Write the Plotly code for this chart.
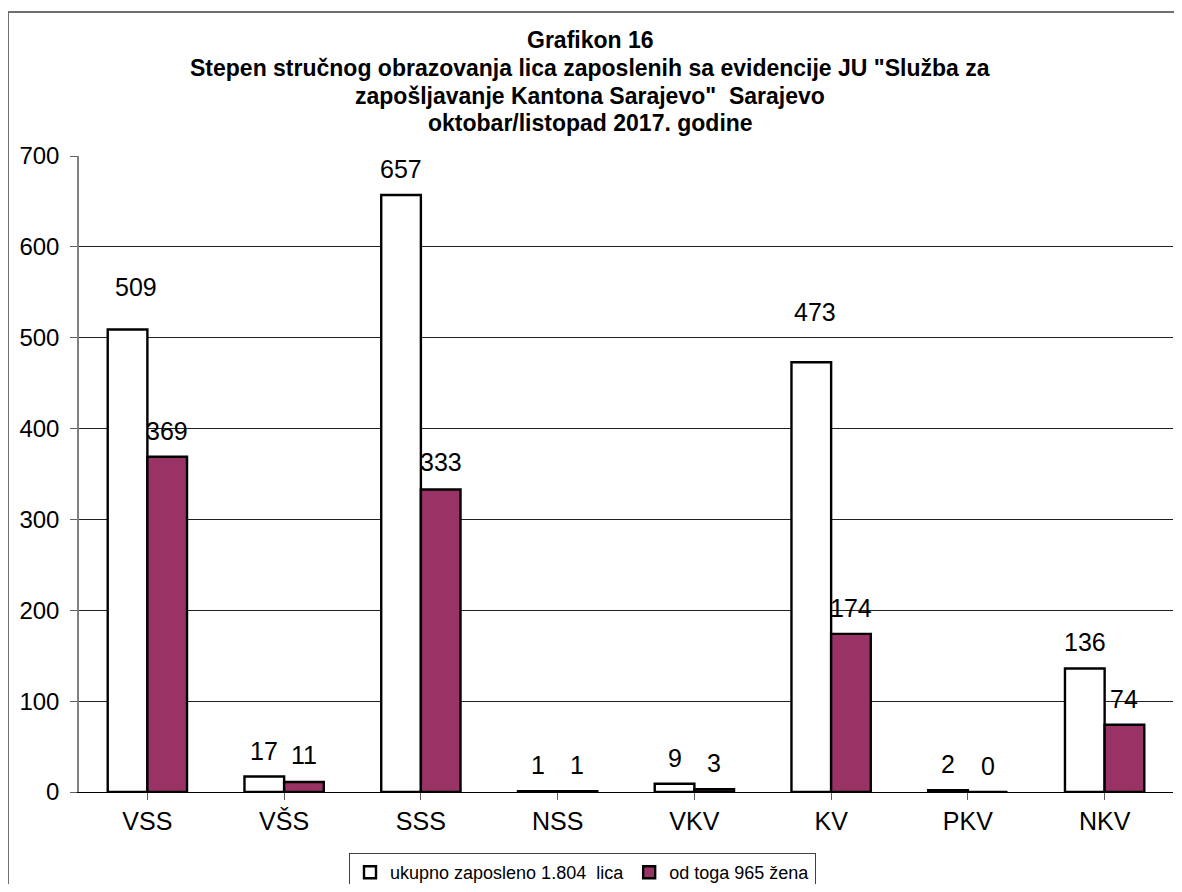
import plotly.graph_objects as go

categories = ["VSS", "VŠS", "SSS", "NSS", "VKV", "KV", "PKV", "NKV"]
ukupno = [509, 17, 657, 1, 9, 473, 2, 136]
zene = [369, 11, 333, 1, 3, 174, 0, 74]
series_names = ["ukupno zaposleno 1.804  lica", "od toga 965 žena"]
y_ticks = [0, 100, 200, 300, 400, 500, 600, 700]

title_lines = [
    "Grafikon 16",
    "Stepen stručnog obrazovanja lica zaposlenih sa evidencije JU \"Služba za",
    "zapošljavanje Kantona Sarajevo\"  Sarajevo",
    "oktobar/listopad 2017. godine",
]

# ---- styling / placement (not data) ----
FONT = "Liberation Sans, Arial, sans-serif"
W, H = 1166, 876            # page body adds an 8px margin
L, R, T, B = 71, 1, 148, 92
PW, PH = W - L - R, H - T - B

def px(xf):   # figure px -> paper x
    return (xf - L) / PW

def py(yf):   # figure px -> paper y
    return (H - B - yf) / PH

lab_dy_1 = [43, 26, 26, 26, 26, 50, 26, 26]
lab_dy_2 = [26, 27, 27, 26, 26, 26, 26, 26]
lab_dx_1 = [8, 0, 0, 0, 0, 4, 0, 0]
lab_dx_2 = [0, 0, 0, 0, 0, 0, 0, 0]
title_y = [32, 60, 88, 115]
half = 0.1445

x = list(range(len(categories)))

fig = go.Figure()
fig.add_trace(go.Bar(x=x, y=ukupno, name=series_names[0],
                     marker=dict(color="white", line=dict(color="black", width=2.4))))
fig.add_trace(go.Bar(x=x, y=zene, name=series_names[1],
                     marker=dict(color="#993366", line=dict(color="black", width=2.4))))

ann = []
for i in x:
    ann.append(dict(x=i - half, y=ukupno[i], text=str(ukupno[i]), showarrow=False,
                    xref="x", yref="y", yanchor="middle", yshift=lab_dy_1[i], xshift=lab_dx_1[i],
                    font=dict(size=25, color="black", family=FONT)))
    ann.append(dict(x=i + half, y=zene[i], text=str(zene[i]), showarrow=False,
                    xref="x", yref="y", yanchor="middle", yshift=lab_dy_2[i], xshift=lab_dx_2[i],
                    font=dict(size=25, color="black", family=FONT)))

for t, ty in zip(title_lines, title_y):
    ann.append(dict(x=px(582), y=py(ty), xref="paper", yref="paper",
                    text="<b>" + t + "</b>", showarrow=False, xanchor="center", yanchor="middle",
                    font=dict(size=23, color="black", family=FONT)))

fig.update_layout(
    width=W, height=H,
    margin=dict(l=L, r=R, t=T, b=B, autoexpand=False),
    paper_bgcolor="white", plot_bgcolor="white",
    barmode="group", bargap=0.42, bargroupgap=0,
    font=dict(family=FONT, color="black"),
    showlegend=True,
    legend=dict(orientation="h", x=px(574.5), xanchor="center",
                y=py(845), yanchor="top",
                bgcolor="white", bordercolor="#404040", borderwidth=1,
                font=dict(size=18, family=FONT, color="black"),
                itemwidth=30, traceorder="normal"),
    annotations=ann,
    shapes=[dict(type="rect", xref="paper", yref="paper",
                 x0=px(0), x1=1.2, y0=-0.5, y1=py(4),
                 line=dict(color="#707070", width=2), fillcolor="rgba(0,0,0,0)", layer="below")],
)

fig.update_xaxes(tickvals=x, ticktext=categories, range=[-0.5, 7.5],
                 showgrid=False, ticks="outside", tickson="boundaries", ticklen=7,
                 tickcolor="#606060", showline=True, linecolor="black", linewidth=1,
                 tickfont=dict(size=25, family=FONT, color="black"))
fig.update_yaxes(range=[0, 700], tickvals=y_ticks, showgrid=True, gridcolor="#202020", gridwidth=1,
                 ticks="outside", ticklen=7, tickcolor="#606060", ticklabelstandoff=6,
                 showline=True, linecolor="#808080", linewidth=1.5, zeroline=False,
                 tickfont=dict(size=24, family=FONT, color="black"))

fig.write_html("out.html")
